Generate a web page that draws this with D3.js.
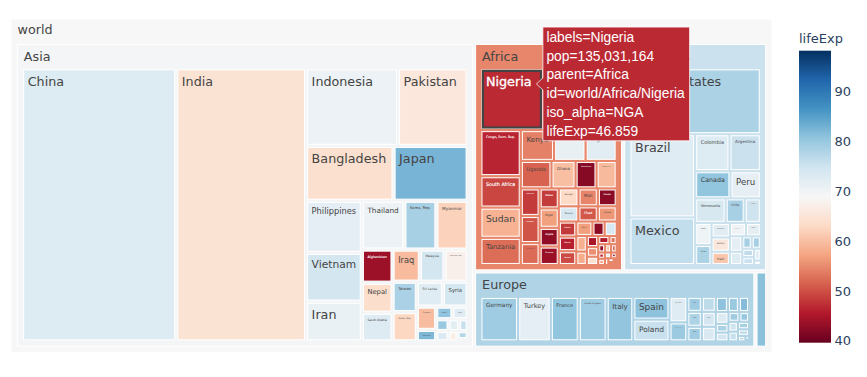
<!DOCTYPE html>
<html><head><meta charset="utf-8">
<script src="https://cdn.jsdelivr.net/npm/d3@7"></script>
<style>body{margin:0;background:#fff;}svg{display:block;}</style>
</head><body>
<svg id="chart" width="867" height="377"></svg>
<script>
// ---------- DATA (gapminder 2007) ----------
const countries = [
"Afghanistan","Bahrain","Bangladesh","Cambodia","China","Hong Kong, China","India","Indonesia","Iran","Iraq","Israel","Japan","Jordan","Korea, Dem. Rep.","Korea, Rep.","Kuwait","Lebanon","Malaysia","Mongolia","Myanmar","Nepal","Oman","Pakistan","Philippines","Saudi Arabia","Singapore","Sri Lanka","Syria","Taiwan","Thailand","Vietnam","West Bank and Gaza","Yemen, Rep.",
"Algeria","Angola","Benin","Botswana","Burkina Faso","Burundi","Cameroon","Central African Republic","Chad","Comoros","Congo, Dem. Rep.","Congo, Rep.","Cote d'Ivoire","Djibouti","Egypt","Equatorial Guinea","Eritrea","Ethiopia","Gabon","Gambia","Ghana","Guinea","Guinea-Bissau","Kenya","Lesotho","Liberia","Libya","Madagascar","Malawi","Mali","Mauritania","Mauritius","Morocco","Mozambique","Namibia","Niger","Nigeria","Reunion","Rwanda","Sao Tome and Principe","Senegal","Sierra Leone","Somalia","South Africa","Sudan","Swaziland","Tanzania","Togo","Tunisia","Uganda","Zambia","Zimbabwe",
"Argentina","Bolivia","Brazil","Canada","Chile","Colombia","Costa Rica","Cuba","Dominican Republic","Ecuador","El Salvador","Guatemala","Haiti","Honduras","Jamaica","Mexico","Nicaragua","Panama","Paraguay","Peru","Puerto Rico","Trinidad and Tobago","United States","Uruguay","Venezuela",
"Albania","Austria","Belgium","Bosnia and Herzegovina","Bulgaria","Croatia","Czech Republic","Denmark","Finland","France","Germany","Greece","Hungary","Iceland","Ireland","Italy","Montenegro","Netherlands","Norway","Poland","Portugal","Romania","Serbia","Slovak Republic","Slovenia","Spain","Sweden","Switzerland","Turkey","United Kingdom",
"Australia","New Zealand"
];
const continentOf = [].concat(
  Array(33).fill("Asia"), Array(52).fill("Africa"), Array(25).fill("Americas"),
  Array(30).fill("Europe"), Array(2).fill("Oceania"));
const pop = [
31889923,708573,150448339,14131858,1318683096,6980412,1110396331,223547000,69453570,27499638,6426679,127467972,6053193,23301725,49044790,2505559,3921278,24821286,2874127,47761980,28901790,3204897,169270617,91077287,27601038,4553009,20378239,19314747,23174294,65068149,85262356,4018332,22211743,
33333216,12420476,8078314,1639131,14326203,8390505,17696293,4369038,10238807,710960,64606759,3800610,18013409,496374,80264543,551201,4906585,76511887,1454867,1688359,22873338,9947814,1472041,35610177,2012649,3193942,6036914,19167654,13327079,12031795,3270065,1250882,33757175,19951656,2055080,12894865,135031164,798094,8860588,199579,12267493,6144562,9118773,43997828,42292929,1133066,38139640,5701579,10276158,29170398,11746035,12311143,
40301927,9119152,190010647,33390141,16284741,44227550,4133884,11416987,9319622,13755680,6939688,12572928,8502814,7483763,2780132,108700891,5675356,3242173,6667147,28674757,3942491,1056608,301139947,3447496,26084662,
3600523,8199783,10392226,4552198,7322858,4493312,10228744,5468120,5238460,61083916,82400996,10706290,9956108,301931,4109086,58147733,684736,16570613,4627926,38518241,10642836,22276056,10150265,5447502,2009245,40448191,9031088,7554661,71158647,60776238,
20434176,4115771
];
const lifeExp = [
43.828,75.635,64.062,59.723,72.961,82.208,64.698,70.65,70.964,59.545,80.745,82.603,72.535,67.297,78.623,77.588,71.993,74.241,66.803,62.069,63.785,75.64,65.483,71.688,72.777,79.972,72.396,74.143,78.4,70.616,74.249,73.422,62.698,
72.301,42.731,56.728,50.728,52.295,49.58,50.43,44.741,50.651,65.152,46.462,55.322,48.328,54.791,71.338,51.579,58.04,52.947,56.735,59.448,60.022,56.007,46.388,54.11,42.592,45.678,73.952,59.443,48.303,54.467,64.164,72.801,71.164,42.082,52.906,56.867,46.859,76.442,46.242,65.528,63.062,42.568,48.159,49.339,58.556,39.613,52.517,58.42,73.923,51.542,42.384,43.487,
75.32,65.554,72.39,80.653,78.553,72.889,78.782,78.273,72.235,74.994,71.878,70.259,60.916,70.198,72.567,76.195,72.899,75.537,71.752,71.421,78.746,69.819,78.242,76.384,73.747,
76.423,79.829,79.441,74.852,73.005,75.748,76.486,78.332,79.313,80.657,79.406,79.483,73.338,81.757,78.885,80.546,74.543,79.762,80.196,75.563,78.098,72.476,74.002,74.663,77.926,80.941,80.884,81.701,71.777,79.425,
81.235,80.204
];
const colorStops = ["rgb(103,0,31)","rgb(178,24,43)","rgb(214,96,77)","rgb(244,165,130)","rgb(253,219,199)","rgb(247,247,247)","rgb(209,229,240)","rgb(146,197,222)","rgb(67,147,195)","rgb(33,102,172)","rgb(5,48,97)"];
const colorbarTicks = [40,50,60,70,80,90];
const rootLabel = "world";
const colorTitle = "lifeExp";
const hoverCountry = "Nigeria";
const hoverIso = "NGA";

// ---------- BUILD HIERARCHY ----------
const contNames = Array.from(new Set(continentOf));
const rootData = {name: rootLabel, children: contNames.map(c => ({
  name: c,
  children: countries.map((n,i)=>({name:n, cont:continentOf[i], pop:pop[i], life:lifeExp[i]})).filter(d=>d.cont===c)
}))};
const root = d3.hierarchy(rootData).sum(d => d.children ? 0 : d.pop).sort((a,b)=>b.value-a.value);
root.eachAfter(n => {
  if (n.children) n.life = d3.sum(n.children, c => c.life * c.value) / n.value;
  else n.life = n.data.life;
});

const cmin = d3.min(lifeExp), cmidv = root.life;
const half = Math.max(cmidv - cmin, d3.max(lifeExp) - cmidv);
const lo = cmidv - half, hi = cmidv + half;
const color = d3.scaleLinear()
  .domain(colorStops.map((_,i)=> lo + (hi-lo)*i/(colorStops.length-1)))
  .range(colorStops).interpolate(d3.interpolateRgb).clamp(true);

// ---------- LAYOUT ----------
const K = 1.06;
const X0 = 11, Y0 = 19, X1 = 772, Y1 = 352.5;
d3.treemap().tile(d3.treemapSquarify.ratio(1))
  .size([X1-X0, Y1-Y0])
  .paddingTop(24*K).paddingLeft(6*K).paddingRight(6*K).paddingBottom(6*K).paddingInner(3*K)(root);

const svg = d3.select("#chart");
const g = svg.append("g").attr("transform", `translate(${X0},${Y0})`);
const FONT = "'DejaVu Sans', Verdana, sans-serif";
const FS = 12*K;

function textColor(c) {
  const r = d3.rgb(c);
  const br = (r.r*299 + r.g*587 + r.b*114)/1000;
  return br < 128 ? "#fff" : "#444";
}

const nodes = root.descendants();
const ng = g.selectAll("g.node").data(nodes).join("g").attr("class","node");
ng.append("rect")
  .attr("x", d=>d.x0).attr("y", d=>d.y0)
  .attr("width", d=>Math.max(0,d.x1-d.x0)).attr("height", d=>Math.max(0,d.y1-d.y0))
  .attr("fill", d=>color(d.life))
  .attr("stroke", "#fff").attr("stroke-width", 1);

ng.each(function(d){
  const w = d.x1-d.x0, h = d.y1-d.y0;
  const fill = color(d.life);
  const tc = textColor(fill);
  const tg = d3.select(this).append("g");
  const t = tg.append("text").text(d.data.name)
    .attr("font-family", FONT).attr("font-size", FS)
    .attr("fill", tc).attr("y", FS*0.98);
  if (tc === "#fff") t.attr("stroke", "#fff").attr("stroke-width", 0.35);
  const tw = t.node().getComputedTextLength();
  const isHeader = !!d.children;
  const padX = isHeader ? 6.5 : 4;
  const padY = isHeader ? (d.depth === 0 ? 2.8 : 4) : 3.3;
  const availH = isHeader ? 24*K : h;
  let s = Math.min(1, (w-2*padX)/tw, (availH-4)/(FS*1.25));
  if (s <= 0.05) { tg.remove(); return; }
  tg.attr("transform", `translate(${d.x0+padX},${d.y0+padY}) scale(${s})`);
});

// ---------- HOVER HIGHLIGHT & TOOLTIP ----------
const hn = root.leaves().find(l => l.data.name === hoverCountry);
const hx0 = hn.x0 + X0, hx1 = hn.x1 + X0, hy0 = hn.y0 + Y0, hy1 = hn.y1 + Y0;
svg.append("rect").attr("x", hx0+1).attr("y", hy0+1).attr("width", hx1-hx0-2).attr("height", hy1-hy0-2)
  .attr("fill","none").attr("stroke","#444").attr("stroke-width",2.2);

const hcol = color(hn.life);
const lines = [
  `labels=${hn.data.name}`,
  `pop=${d3.format(",")(hn.data.pop)}`,
  `parent=${hn.parent.data.name}`,
  `id=${rootLabel}/${hn.parent.data.name}/${hn.data.name}`,
  `iso_alpha=${hoverIso}`,
  `lifeExp=${hn.data.life}`
];
const tipX = hx1 - 5.5, tipY = hy0 + (hy1-hy0)*0.24;
const tipG = svg.append("g").attr("transform", `translate(${tipX},${tipY})`);
const HF = 13.8, LH = 18.7;
const tt = tipG.append("text").attr("font-family","'Liberation Sans', Arial, sans-serif").attr("font-size",HF).attr("fill","#fff");
lines.forEach((l,i)=> tt.append("tspan").attr("x", 10).attr("y", (i - (lines.length-1)/2)*LH + HF*0.35).text(l));
const bb = tt.node().getBBox();
const bw = bb.width + 8, bh = lines.length*LH + 1.5;
const bx = 6.5, by = -bh/2;
tipG.insert("path","text")
  .attr("d", `M0,0L${bx},-6V${by}H${bx+bw}V${by+bh}H${bx}V6Z`)
  .attr("fill", hcol).attr("stroke","rgba(255,255,255,0.75)").attr("stroke-width",1);

// ---------- COLORBAR ----------
const cbX = 799, cbW = 32, cbTop = 50.7, cbBot = 342.7;
const cy = d3.scaleLinear().domain([lo, hi]).range([cbBot, cbTop]);
const defs = svg.append("defs");
const grad = defs.append("linearGradient").attr("id","cbgrad").attr("x1",0).attr("x2",0).attr("y1",1).attr("y2",0);
colorStops.forEach((c,i)=> grad.append("stop").attr("offset", i/(colorStops.length-1)).attr("stop-color", c));
svg.append("rect").attr("x",cbX).attr("y",cbTop).attr("width",cbW).attr("height",cbBot-cbTop).attr("fill","url(#cbgrad)");
const cbAxis = d3.axisRight(cy).tickValues(colorbarTicks).tickSize(0).tickPadding(0).tickFormat(d3.format("d"));
const ax = svg.append("g").attr("transform", `translate(${cbX+cbW+3.5},0)`).call(cbAxis);
ax.select(".domain").remove();
ax.selectAll("text").attr("font-family", FONT).attr("font-size", 13).attr("fill","#2a3f5f");
svg.append("text").attr("x", cbX).attr("y", 42.5).text(colorTitle)
  .attr("font-family", FONT).attr("font-size", 13).attr("fill","#2a3f5f");
</script>
</body></html>
